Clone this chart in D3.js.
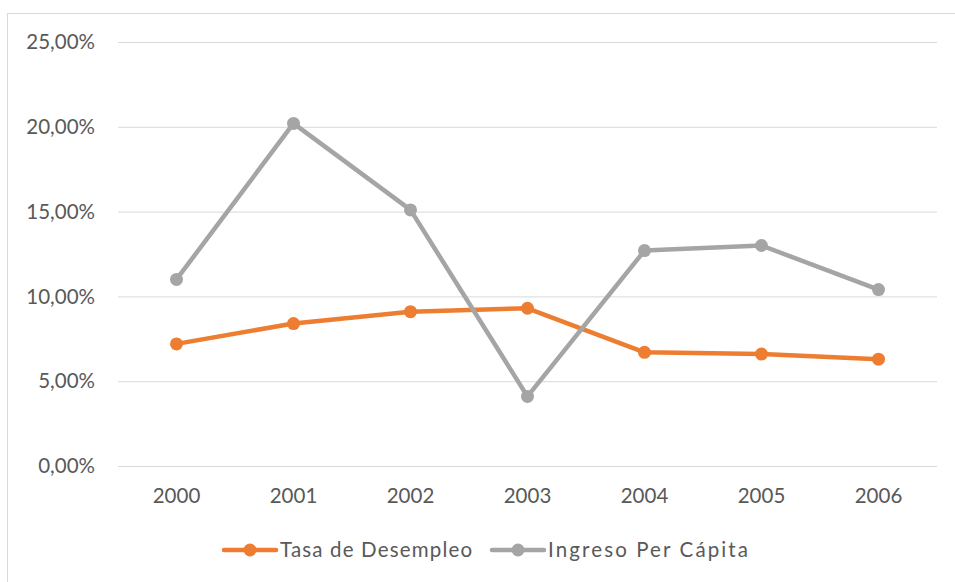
<!DOCTYPE html>
<html><head><meta charset="utf-8">
<script src="https://cdn.jsdelivr.net/npm/d3@7"></script>
<style>body{margin:0;background:#fff}svg{display:block;font-family:Lato,"Open Sans",sans-serif}</style>
</head><body><svg id="c" width="955" height="582"></svg>
<script>
const years = ["2000","2001","2002","2003","2004","2005","2006"];
const desempleo = [7.2, 8.4, 9.1, 9.3, 6.7, 6.6, 6.3];
const ingreso = [11.0, 20.2, 15.1, 4.1, 12.7, 13.0, 10.4];
const yTicks = [0, 5, 10, 15, 20, 25];
const seriesNames = ["Tasa de Desempleo", "Ingreso Per Cápita"];
const colors = ["#ED7D31", "#A5A5A5"];

const svg = d3.select("#c");
svg.append("rect").attr("x",7.5).attr("y",13.5).attr("width",960).attr("height",600)
  .attr("fill","none").attr("stroke","#d9d9d9").attr("stroke-width",1);

const x = d3.scaleBand().domain(years).range([118, 937]);
const y = d3.scaleLinear().domain([0, 25]).range([466, 42]);
const fmt = v => d3.format(".2f")(v).replace(".", ",") + "%";

const g = svg.append("g");
g.selectAll("line.grid").data(yTicks).join("line")
  .attr("x1",118).attr("x2",937).attr("y1",d=>y(d)+0.5).attr("y2",d=>y(d)+0.5)
  .attr("stroke","#d9d9d9").attr("stroke-width",1);
g.selectAll("text.yl").data(yTicks).join("text")
  .attr("x",95).attr("y",d=>y(d)).attr("dy","0.35em").attr("text-anchor","end")
  .attr("fill","#595959").attr("font-size",20.5).text(fmt);
g.selectAll("text.xl").data(years).join("text")
  .attr("x",d=>x(d)+x.bandwidth()/2).attr("y",496).attr("dy","0.35em").attr("text-anchor","middle")
  .attr("fill","#595959").attr("font-size",20.5).text(d=>d);

const line = d3.line().x((d,i)=>x(years[i])+x.bandwidth()/2).y(d=>y(d));
[desempleo, ingreso].forEach((s, k) => {
  svg.append("path").datum(s).attr("d", line).attr("fill","none")
    .attr("stroke", colors[k]).attr("stroke-width",4.5).attr("stroke-linejoin","round").attr("stroke-linecap","round");
  svg.selectAll(null).data(s).join("circle")
    .attr("cx",(d,i)=>x(years[i])+x.bandwidth()/2).attr("cy",d=>y(d)).attr("r",6.5).attr("fill",colors[k]);
});

const leg = [{x:224, name:seriesNames[0], c:colors[0], w:192},{x:492, name:seriesNames[1], c:colors[1], w:200}];
leg.forEach(l => {
  svg.append("line").attr("x1",l.x).attr("x2",l.x+52).attr("y1",550).attr("y2",550)
    .attr("stroke",l.c).attr("stroke-width",4.5).attr("stroke-linecap","round");
  svg.append("circle").attr("cx",l.x+26).attr("cy",550).attr("r",6.5).attr("fill",l.c);
  svg.append("text").attr("x",l.x+56).attr("y",550).attr("dy","0.35em").attr("fill","#595959")
    .attr("font-size",20.5).attr("textLength",l.w).attr("lengthAdjust","spacing").text(l.name);
});
</script></body></html>
